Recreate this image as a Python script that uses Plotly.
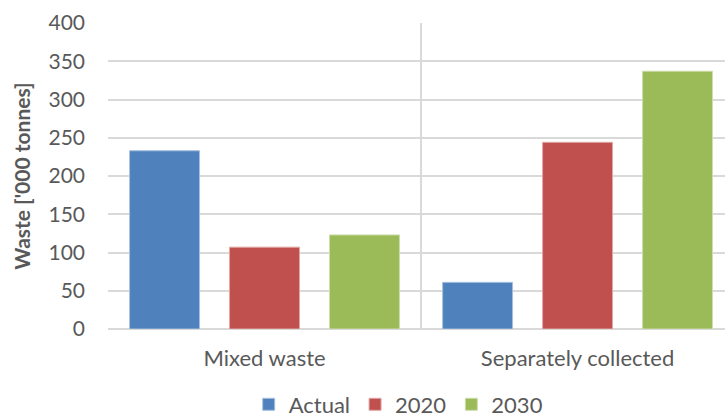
import plotly.graph_objects as go

categories = ["Mixed waste", "Separately collected"]
series_names = ["Actual", "2020", "2030"]
actual = [233, 61]
y2020 = [107, 244]
y2030 = [123, 337]
colors = ["#4F81BD", "#C0504D", "#9BBB59"]
edge_colors = ["#A7C0DE", "#E0A8A6", "#CDDDAC"]
y_ticks = [0, 50, 100, 150, 200, 250, 300, 350, 400]

FONT = "Lato"
GREY = "#595959"

fig = go.Figure()
for name, vals, c, ec in zip(series_names, [actual, y2020, y2030], colors, edge_colors):
    fig.add_trace(go.Bar(
        name=name, x=categories, y=vals,
        marker=dict(color=c, line=dict(color=ec, width=1)),
    ))

fig.update_layout(
    width=725, height=417,
    margin=dict(l=108, r=0, t=23, b=88, autoexpand=False),
    paper_bgcolor="white", plot_bgcolor="white",
    barmode="group", bargap=0.042, bargroupgap=0.3,
    font=dict(family=FONT, size=20, color=GREY),
    legend=dict(
        orientation="h", x=0.228, xanchor="left",
        yref="container", y=0.03, yanchor="middle",
        font=dict(family=FONT, size=22, color=GREY),
        itemclick=False,
    ),
    xaxis=dict(
        type="category", range=[-0.5, 1.471],
        showgrid=True, gridcolor="#D9D9D9", gridwidth=2,
        tickson="boundaries", ticks="", showline=False,
        ticklabelstandoff=14,
        tickfont=dict(family=FONT, size=22, color=GREY),
        zeroline=False,
    ),
    yaxis=dict(
        range=[0, 400], tickvals=y_ticks,
        showgrid=True, gridcolor="#D9D9D9", gridwidth=2,
        zeroline=True, zerolinecolor="#D9D9D9", zerolinewidth=2,
        showline=False, ticks="", ticklabelstandoff=22,
        tickfont=dict(family=FONT, size=21, color=GREY),
        title=dict(text="<b>Waste ['000 tonnes]</b>", standoff=12,
                   font=dict(family=FONT, size=21, color=GREY)),
    ),
)

fig.write_html("out.html")
